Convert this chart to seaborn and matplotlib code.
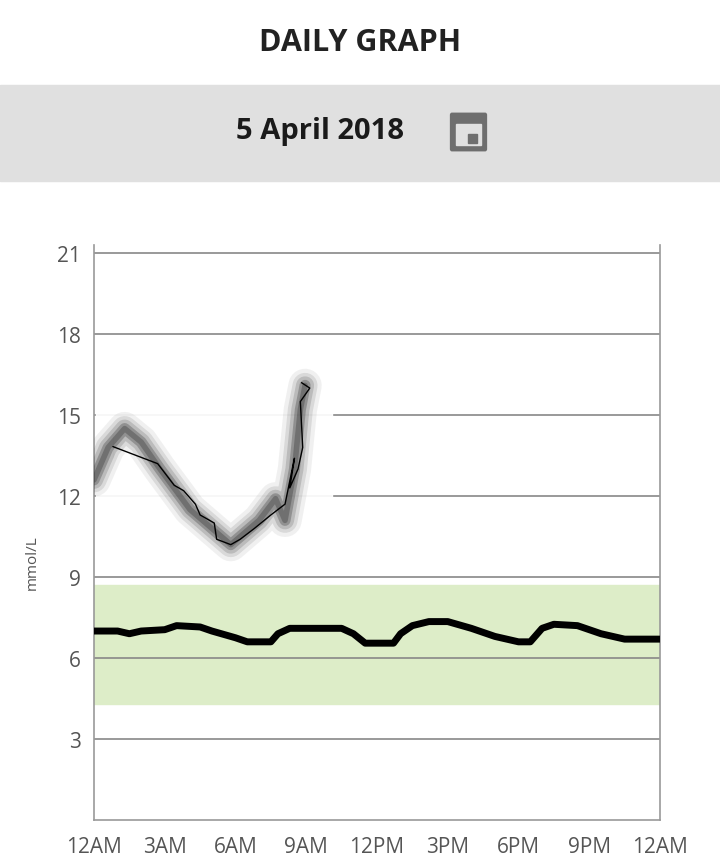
import matplotlib
matplotlib.use("Agg")
import matplotlib.pyplot as plt
from matplotlib.patches import Rectangle, FancyBboxPatch
import pandas as pd
import seaborn as sns

# hours since midnight / mmol/L
avg_hours = [0, 1, 1.5, 2, 3, 3.5, 4.5, 5, 6, 6.5, 7.5, 7.8, 8.3, 10.5, 11, 11.5, 12.7, 13, 13.5,
             14.2, 15, 16, 17, 18, 18.5, 19, 19.5, 20.5, 21.5, 22.5, 24]
avg_values = [7.0, 7.0, 6.9, 7.0, 7.05, 7.2, 7.15, 7.0, 6.75, 6.6, 6.6, 6.9, 7.1, 7.1, 6.9, 6.55, 6.55,
              6.9, 7.2, 7.35, 7.35, 7.1, 6.8, 6.6, 6.6, 7.1, 7.25, 7.2, 6.9, 6.7, 6.7]

blur_hours = [0, 0.6, 1.3, 2.0, 2.8, 4.07, 5.0, 5.8, 7.0, 7.7, 8.1, 8.5, 8.75, 8.95]
blur_values = [12.6, 13.8, 14.5, 14.0, 13.0, 11.5, 10.8, 10.2, 11.1, 11.9, 11.1, 13.0, 15.2, 16.1]

trace_hours = [0.8, 0.8, 0.8, 2.1, 2.7, 3.4, 3.8, 4.3, 4.5, 5.1, 5.2, 5.8, 6.2, 6.8, 7.5, 8.1, 8.5,
               8.3, 8.65, 8.85, 8.5, 8.75, 9.15, 8.8]
trace_values = [14.3, 13.8, 13.4, 13.4, 13.2, 12.4, 12.2, 11.7, 11.3, 11.0, 10.4, 10.2, 10.4, 10.8,
                11.3, 11.7, 11.9, 12.3, 13.0, 13.8, 14.9, 15.5, 16.0, 16.2]

target_low, target_high = 4.3, 8.7
y_ticks = [3, 6, 9, 12, 15, 18, 21]
x_ticks = list(range(0, 25, 3))
x_labels = ["12AM", "3AM", "6AM", "9AM", "12PM", "3PM", "6PM", "9PM", "12AM"]

sns.set_theme(style="white")
plt.rcParams["font.family"] = ["Open Sans", "DejaVu Sans"]

fig = plt.figure(figsize=(7.2, 8.62), dpi=100)
fig.text(0.5, 1 - 43 / 862, "DAILY GRAPH", ha="center", va="center", fontsize=22,
         fontweight="bold", color="#222222")
fig.patches.append(Rectangle((0, 1 - 182 / 862), 1, 96 / 862, transform=fig.transFigure,
                             color="#e0e0e0", zorder=0))
fig.text(320 / 720, 1 - 132 / 862, "5 April 2018", ha="center", va="center", fontsize=21,
         fontweight="bold", color="#1a1a1a")
fig.patches.append(FancyBboxPatch((452 / 720, 1 - 150 / 862), 33 / 720, 34 / 862,
                                  boxstyle="round,pad=0.002", transform=fig.transFigure,
                                  color="#6e6e6e", zorder=2))
fig.patches.append(Rectangle((456 / 720, 1 - 146 / 862), 25 / 720, 21 / 862,
                             transform=fig.transFigure, color="#e0e0e0", zorder=3))
fig.patches.append(Rectangle((468 / 720, 1 - 144 / 862), 9 / 720, 9 / 862,
                             transform=fig.transFigure, color="#6e6e6e", zorder=4))

ax = fig.add_axes([94 / 720, 1 - 821 / 862, 566 / 720, 575 / 862])
ax.set_xlim(0, 24)
ax.set_ylim(0, 21.3)
ax.axhspan(target_low, target_high, color="#ddedc8", zorder=0)
for y in y_ticks:
    ax.axhline(y, color="#888888", lw=1.2, zorder=1)

# pasted-over region behind the overnight trace
ax.add_patch(Rectangle((0.1, 9.8), 10.0, 6.9, color="white", alpha=0.93, zorder=2))

blur = pd.DataFrame({"h": blur_hours, "v": blur_values})
for lw, a in [(24, 0.07), (18, 0.12), (13, 0.18), (8, 0.3), (4, 0.35)]:
    sns.lineplot(data=blur, x="h", y="v", ax=ax, color="#333333", lw=lw, alpha=a,
                 solid_capstyle="round", zorder=3, sort=False)
trace = pd.DataFrame({"h": trace_hours, "v": trace_values})
sns.lineplot(data=trace, x="h", y="v", ax=ax, color="black", lw=1, zorder=4, sort=False)
avg = pd.DataFrame({"h": avg_hours, "v": avg_values})
sns.lineplot(data=avg, x="h", y="v", ax=ax, color="black", lw=5, zorder=5)

ax.set_xticks(x_ticks)
ax.set_xticklabels(x_labels)
ax.set_xticks(range(25), minor=True)
ax.set_yticks(y_ticks)
ax.tick_params(axis="both", which="both", direction="out", colors="#999999", labelcolor="#555555",
               labelsize=15)
ax.tick_params(axis="x", which="major", length=8, width=1)
ax.tick_params(axis="x", which="minor", length=5, width=1)
ax.tick_params(axis="y", length=6, width=1)
ax.set_xlabel("")
ax.set_ylabel("mmol/L", fontsize=11, color="#555555", labelpad=8)
ax.yaxis.set_label_coords(-0.095, 0.45)
ax.spines["top"].set_visible(False)
for side in ["left", "right", "bottom"]:
    ax.spines[side].set_color("#999999")
    ax.spines[side].set_linewidth(1.2)

fig.savefig("out.png", dpi=100)
